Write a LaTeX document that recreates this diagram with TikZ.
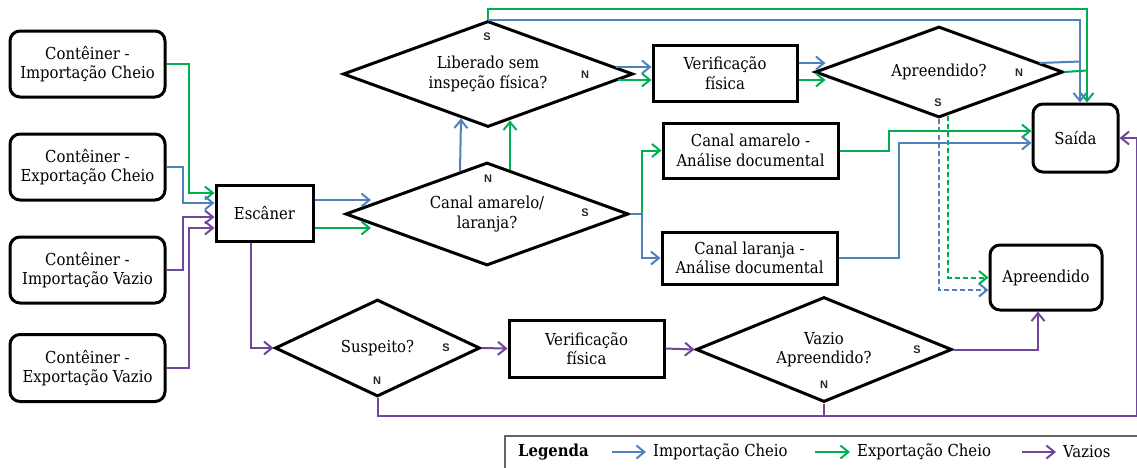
\documentclass[tikz,border=0pt]{standalone}
\usepackage{fontspec}
\setmainfont{DejaVu Serif Condensed}
\newfontfamily\serifA{DejaVu Serif Condensed}
\newfontfamily\lblfont{Liberation Sans}
\usetikzlibrary{arrows.meta,calc,shapes.geometric}
\definecolor{cblue}{RGB}{79,129,189}
\definecolor{cgreen}{RGB}{0,176,80}
\definecolor{cpurple}{RGB}{112,70,155}
\definecolor{lgray}{RGB}{100,100,100}
\begin{document}
\begin{tikzpicture}[x=1pt,y=-1pt,
  font=\serifA\fontsize{16.5}{19.5}\selectfont,
  rbox/.style={draw, line width=3pt, rounded corners=10pt, align=center, inner sep=0pt},
  sbox/.style={draw, line width=3pt, align=center, inner sep=0pt},
  dia/.style={diamond, draw, line width=3pt, align=center, inner sep=0pt},
  tip/.style={-{Straight Barb[length=8pt,width=13pt]}},
  bl/.style={draw=cblue, line width=2pt},
  gl/.style={draw=cgreen, line width=2pt},
  pl/.style={draw=cpurple, line width=2pt},
  dsh/.style={dash pattern=on 5pt off 3pt},
  yn/.style={font=\lblfont\bfseries\fontsize{11}{11}\selectfont, text=black!85, inner sep=0pt},
  leg/.style={anchor=west, inner sep=0pt},
]
\useasboundingbox (0,0) rectangle (1137,467);

% ---------- nodes ----------
\node[rbox, minimum width=155pt, minimum height=66pt] (b1) at (87.5,64) {Contêiner -\\Importação Cheio};
\node[rbox, minimum width=155pt, minimum height=66pt] (b2) at (87.5,167) {Contêiner -\\Exportação Cheio};
\node[rbox, minimum width=155pt, minimum height=66pt] (b3) at (87.5,270) {Contêiner -\\Importação Vazio};
\node[rbox, minimum width=155pt, minimum height=67pt] (b4) at (87.5,368) {Contêiner -\\Exportação Vazio};
\node[sbox, minimum width=97pt, minimum height=56pt] (esc) at (264.5,213) {Escâner};

\node[dia, shape aspect=2.74, minimum width=290pt, minimum height=106pt] (d1) at (488,74) {Liberado sem\\inspeção física?};
\node[dia, shape aspect=2.75, minimum width=283pt, minimum height=103pt] (d2) at (487,214) {Canal amarelo/\\laranja?};
\node[sbox, minimum width=144pt, minimum height=56pt] (v1) at (725,73) {Verificação\\física};
\node[dia, shape aspect=2.72, minimum width=248pt, minimum height=91pt] (d3) at (939,72) {Apreendido?};
\node[sbox, minimum width=175pt, minimum height=55pt] (ca) at (750.5,150.5) {Canal amarelo -\\Análise documental};
\node[sbox, minimum width=175pt, minimum height=52pt] (cl) at (749.5,258) {Canal laranja -\\Análise documental};
\node[rbox, minimum width=85pt, minimum height=68pt] (sai) at (1075.5,138) {Saída};
\node[rbox, minimum width=112pt, minimum height=65pt] (apr) at (1046,277.5) {Apreendido};

\node[dia, shape aspect=2.11, minimum width=205pt, minimum height=97pt] (d4) at (377.5,348) {Suspeito?};
\node[sbox, minimum width=155pt, minimum height=57pt] (v2) at (586.5,348.5) {Verificação\\física};
\node[dia, shape aspect=2.44, minimum width=256pt, minimum height=105pt] (d5) at (824,349.5) {Vazio\\Apreendido?};

% ---------- S / N labels ----------
\node[yn] (s1) at (487,37) {S};
\node[yn] (n1) at (585,75) {N};
\node[yn] (n2) at (488,179) {N};
\node[yn] (s2) at (585,213) {S};
\node[yn] (n3) at (1019,73) {N};
\node[yn] (s3) at (938,103) {S};
\node[yn] (s4) at (446,348) {S};
\node[yn] (n4) at (377,381) {N};
\node[yn] (s5) at (917,350) {S};
\node[yn] (n5) at (824,385) {N};

% ---------- connectors: containers -> scanner ----------
\draw[gl,tip] (b1.east) -- ++(22,0) |- ($(esc.west)+(0,-20)$);
\draw[bl,tip] (b2.east) -- ++(16,0) |- ($(esc.west)+(0,-10)$);
\draw[pl,tip] (b3.east) -- ++(16,0) |- ($(esc.west)+(0,4)$);
\draw[pl,tip] (b4.east) -- ++(22,0) |- ($(esc.west)+(0,15)$);

% scanner -> canal amarelo/laranja
\draw[bl,tip] ($(esc.east)+(0,-13)$) -- ($(d2.west)+(27,-14)$);
\draw[gl,tip] ($(esc.east)+(0,15)$) -- ($(d2.west)+(27,14)$);

% canal amarelo/laranja N -> liberado
\draw[bl,tip] ($(d2.north)+(-27,10)$) -- ($(d1.south)+(-27,-10)$);
\draw[gl,tip] ($(d2.north)+(23,9)$) -- ($(d1.south)+(22,-8)$);

% liberado N -> verificacao
\draw[bl,tip] ($(d1.east)+(-19,-7)$) -- ($(v1.west)+(0,-6)$);
\draw[gl,tip] ($(d1.east)+(-17,6)$) -- ($(v1.west)+(0,7)$);

% verificacao -> apreendido?
\draw[bl,tip] ($(v1.east)+(0,-10)$) -- ($(d3.west)+(12,-9)$);
\draw[gl,tip] ($(v1.east)+(0,7)$) -- ($(d3.west)+(12,8)$);

% liberado S -> saida
\draw[gl,tip] (d1.north) -- ++(0,-11) -| ($(sai.north)+(11.5,0)$);
\draw[bl,tip] (d1.north) -| ($(sai.north)+(4.5,0)$);

% apreendido? N -> saida (joins)
\draw[bl] ($(d3.east)+(-25,-9)$) -- ($(sai.north)+(4.5,-41)$);
\draw[gl] (d3.east) -- ($(sai.north)+(11.5,-32)$);

% apreendido? S -> apreendido (dashed)
\draw[bl,tip,dsh] (d3.south) |- ($(apr.west)+(0,12.5)$);
\draw[gl,tip,dsh] ($(d3.south)+(9,-3)$) |- (apr.west);

% canal S -> analise documental
\draw[gl,tip] (d2.east) -- ++(12,0) |- (ca.west);
\draw[bl,tip] (d2.east) -- ++(12,0) |- (cl.west);

% analise documental -> saida
\draw[gl,tip] (ca.east) -- ++(49,0) |- ($(sai.west)+(0,-7)$);
\draw[bl,tip] (cl.east) -- ++(60,0) |- ($(sai.west)+(0,5)$);

% empty containers path
\draw[pl,tip] ($(esc.south)+(-14,0)$) |- (d4.west);
\draw[pl,tip] (d4.east) -- (v2.west);
\draw[pl,tip] (v2.east) -- (d5.west);
\draw[pl,tip] (d5.east) -| ($(apr.south)+(-8,0)$);
\draw[pl,tip] (d4.south) -- ++(0,18) -| ($(sai.east)+(17,0)$) -- (sai.east);
\draw[pl] (d5.south) -- ++(0,13);

% ---------- legend ----------
\draw[lgray, line width=1.5pt] (505,470) -- (505,436) -- (1140,436);
\node[leg, font=\serifA\fontsize{16.5}{19.5}\selectfont\bfseries] (lg) at (518,452) {Legenda};
\node[leg] (li) at (653,452) {Importação Cheio};
\node[leg] (le) at (857,452) {Exportação Cheio};
\node[leg] (lv) at (1063,452) {Vazios};
\draw[bl,tip] ($(li.west)+(-41,0)$) -- ($(li.west)+(-7,0)$);
\draw[gl,tip] ($(le.west)+(-42,0)$) -- ($(le.west)+(-7,0)$);
\draw[pl,tip] ($(lv.west)+(-41,0)$) -- ($(lv.west)+(-7,0)$);
\end{tikzpicture}
\end{document}
